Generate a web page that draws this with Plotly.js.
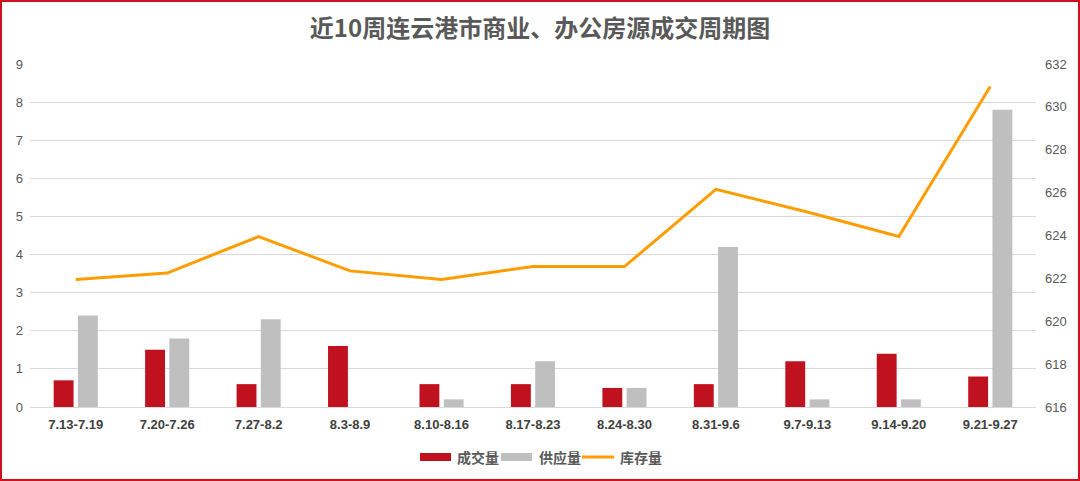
<!DOCTYPE html>
<html><head><meta charset="utf-8">
<script src="https://cdn.plot.ly/plotly-3.0.1.min.js"></script>
<style>
html,body{margin:0;padding:0;background:#fff;}
#wrap{position:relative;width:1080px;height:481px;}
#chart{width:1080px;height:481px;}
#frame{position:absolute;left:0;top:0;width:1080px;height:481px;box-sizing:border-box;border:2px solid #d0101c;pointer-events:none;}
</style></head>
<body>
<div id="wrap"><div id="chart"></div><div id="frame"></div></div>
<script>
const weeks = ["7.13-7.19","7.20-7.26","7.27-8.2","8.3-8.9","8.10-8.16","8.17-8.23","8.24-8.30","8.31-9.6","9.7-9.13","9.14-9.20","9.21-9.27"];
const dealVolume = [0.7,1.5,0.6,1.6,0.6,0.6,0.5,0.6,1.2,1.4,0.8];
const supplyVolume = [2.4,1.8,2.3,0,0.2,1.2,0.5,4.2,0.2,0.2,7.8];
const inventory = [621.95,622.25,623.95,622.35,621.95,622.55,622.55,626.15,625.1,623.95,630.95];
const leftTicks = [0,1,2,3,4,5,6,7,8,9];
const rightTicks = [616,618,620,622,624,626,628,630,632];
const seriesNames = ['成交量','供应量','库存量'];
const seriesColors = ['#c0111f','#bfbfbf','#ff9d00'];

const font = "'Noto Sans CJK SC','Noto Sans',Arial,sans-serif";
const numFont = "Arial, 'Liberation Sans', sans-serif";
const traces = [
  {type:'bar', name:seriesNames[0], x:weeks, y:dealVolume, marker:{color:seriesColors[0]}, yaxis:'y'},
  {type:'bar', name:seriesNames[1], x:weeks, y:supplyVolume, marker:{color:seriesColors[1]}, yaxis:'y'},
  {type:'scatter', mode:'lines', name:seriesNames[2], x:weeks, y:inventory, line:{color:seriesColors[2], width:3}, yaxis:'y2'}
];

// custom legend (paper coords from pixel positions)
const L=30, R=1036, T=64, B=407;
const px = v => (v-L)/(R-L);
const py = v => (B-v)/(B-T);
const legY = 457;
const shapes = [
  {type:'rect', xref:'paper', yref:'paper', x0:px(420), x1:px(451), y0:py(461), y1:py(453), fillcolor:seriesColors[0], line:{width:0}},
  {type:'rect', xref:'paper', yref:'paper', x0:px(501), x1:px(532), y0:py(461), y1:py(453), fillcolor:seriesColors[1], line:{width:0}},
  {type:'line', xref:'paper', yref:'paper', x0:px(582), x1:px(614), y0:py(legY), y1:py(legY), line:{color:seriesColors[2], width:3}}
];
const legTextX = [455, 537, 618];
const annotations = seriesNames.map((n,i)=>({xref:'paper', yref:'paper', x:px(legTextX[i]), y:py(legY), xanchor:'left', yanchor:'middle', showarrow:false, text:'<b>'+n+'</b>', font:{family:font, size:14, color:'#595959'}}));

const layout = {
  width:1080, height:481,
  margin:{l:L, r:1080-R, t:T, b:481-B},
  paper_bgcolor:'#fff', plot_bgcolor:'#fff',
  font:{family:font, color:'#595959', size:13},
  title:{text:'<b>近10周连云港市商业、办公房源成交周期图</b>', x:0.5, xanchor:'center', y:1-29/481, yanchor:'middle', font:{family:font, size:24, color:'#595959'}},
  barmode:'group', bargap:0.47, bargroupgap:0.18,
  showlegend:false,
  shapes:shapes, annotations:annotations,
  xaxis:{type:'category', tickfont:{family:numFont, size:13, color:'#404040', weight:'bold'}, showgrid:false, showline:false, ticks:'', ticklabelstandoff:8},
  yaxis:{range:[0,9], tickvals:leftTicks, showgrid:true, gridcolor:'#d9d9d9', gridwidth:1, zeroline:true, zerolinecolor:'#d9d9d9', showline:false, ticks:'', tickfont:{family:numFont, size:13, color:'#595959'}, ticklabelstandoff:6},
  yaxis2:{overlaying:'y', side:'right', range:[616,632], tickvals:rightTicks, showgrid:false, zeroline:false, showline:false, ticks:'', tickfont:{family:numFont, size:13, color:'#595959'}, ticklabelstandoff:8}
};
Plotly.newPlot('chart', traces, layout, {displayModeBar:false, staticPlot:true});
</script>
</body></html>
